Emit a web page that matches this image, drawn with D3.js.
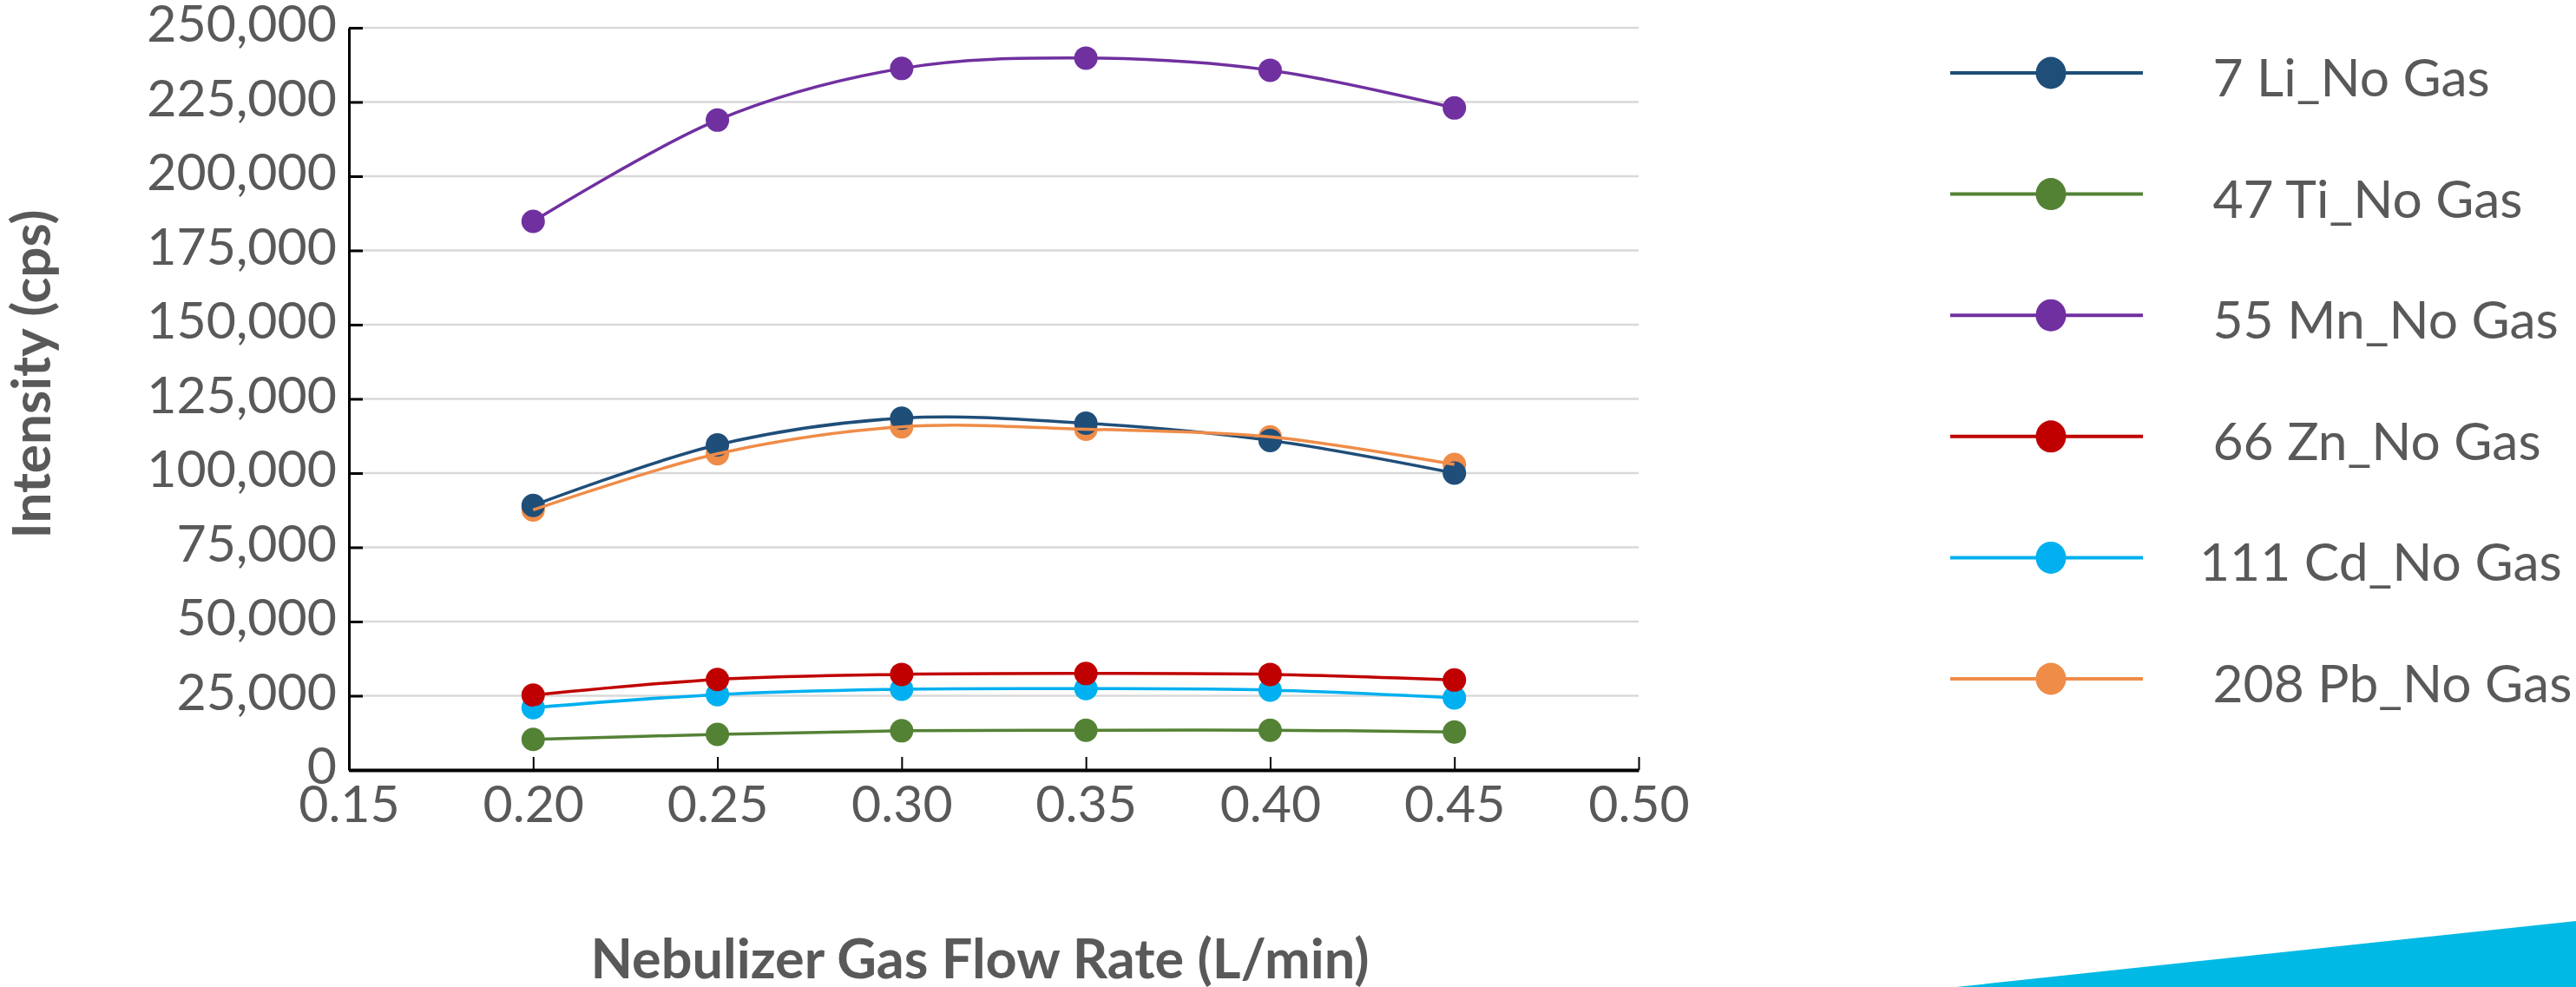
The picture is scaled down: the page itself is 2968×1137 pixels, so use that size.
<!DOCTYPE html>
<html>
<head>
<meta charset="utf-8">
<script src="https://cdn.jsdelivr.net/npm/d3@7"></script>
<style>
  body { margin: 0; background: #fff; }
  svg text { font-family: Lato, "Open Sans", sans-serif; fill: #595959; }
</style>
</head>
<body>
<div id="chart"></div>
<script>
// Flow rates (L/min) and intensities (cps)
const flowRates = [0.20, 0.25, 0.30, 0.35, 0.40, 0.45];
const li7 = [89100, 109500, 118500, 116800, 111000, 100000];
const ti47 = [10300, 12000, 13200, 13400, 13400, 12800];
const mn55 = [184800, 218900, 236300, 239800, 235700, 223000];
const zn66 = [25200, 30500, 32200, 32500, 32200, 30300];
const cd111 = [21000, 25400, 27200, 27400, 26900, 24300];
const pb208 = [87600, 106500, 115600, 114800, 112200, 102900];

const seriesNames = [' 7 Li_No Gas', ' 47 Ti_No Gas', ' 55 Mn_No Gas', ' 66 Zn_No Gas', '111 Cd_No Gas', ' 208 Pb_No Gas'];
const seriesValues = [li7, ti47, mn55, zn66, cd111, pb208];
const seriesColors = ['#1f4e79', '#548235', '#7030a0', '#c00000', '#00b0f0', '#ef8c48'];

const xTicks = [0.15, 0.20, 0.25, 0.30, 0.35, 0.40, 0.45, 0.50];
const yTicks = [0, 25000, 50000, 75000, 100000, 125000, 150000, 175000, 200000, 225000, 250000];

const width = 2968;
const height = 1137;
const plot = { left: 402, right: 1888, top: 32, bottom: 887 };

const svg = d3.select('#chart')
  .append('svg')
  .attr('width', width)
  .attr('height', height);

const x = d3.scaleLinear().domain([0.15, 0.50]).range([plot.left, plot.right]);
const y = d3.scaleLinear().domain([0, 250000]).range([plot.bottom, plot.top]);

// Gridlines
svg.append('g')
  .selectAll('line')
  .data(yTicks.filter(d => d > 0))
  .enter()
  .append('line')
  .attr('x1', plot.left)
  .attr('x2', plot.right)
  .attr('y1', d => y(d))
  .attr('y2', d => y(d))
  .attr('stroke', '#d9d9d9')
  .attr('stroke-width', 2.5);

// Y axis, ticks pointing inwards
const yAxis = svg.append('g')
  .attr('transform', `translate(${plot.left},0)`)
  .call(d3.axisLeft(y).tickValues(yTicks).tickFormat(d3.format(',')).tickSizeInner(-16).tickSizeOuter(0).tickPadding(14));
yAxis.select('.domain').attr('stroke', '#000').attr('stroke-width', 3);
yAxis.selectAll('.tick line').attr('stroke', '#000').attr('stroke-width', 3);
yAxis.selectAll('.tick text')
  .attr('dy', '0.27em')
  .style('font-size', '59px')
  .style('fill', '#595959');

// X axis
const xAxis = svg.append('g')
  .attr('transform', `translate(0,${plot.bottom})`)
  .call(d3.axisBottom(x).tickValues(xTicks).tickFormat(d3.format('.2f')).tickSizeInner(-15).tickSizeOuter(0).tickPadding(18));
xAxis.select('.domain').attr('stroke', '#000').attr('stroke-width', 4);
xAxis.selectAll('.tick line').attr('stroke', '#000').attr('stroke-width', 2);
xAxis.selectAll('.tick text')
  .style('font-size', '59px')
  .style('fill', '#595959');

// Series
const series = seriesNames.map((name, i) => ({
  name: name,
  color: seriesColors[i],
  points: flowRates.map((f, j) => ({ x: f, y: seriesValues[i][j] }))
}));

const line = d3.line()
  .x(d => x(d.x))
  .y(d => y(d.y))
  .curve(d3.curveCardinal.tension(0));

// Markers first (last series underneath), then lines over them
series.slice().reverse().forEach(s => {
  svg.append('g')
    .selectAll('circle')
    .data(s.points)
    .enter()
    .append('circle')
    .attr('cx', d => x(d.x))
    .attr('cy', d => y(d.y))
    .attr('r', 13.5)
    .attr('fill', s.color);
});

series.forEach(s => {
  svg.append('path')
    .datum(s.points)
    .attr('d', line)
    .attr('fill', 'none')
    .attr('stroke', s.color)
    .attr('stroke-width', 3.5);
});

// Legend
const legend = svg.append('g');
const legendRow = d3.scaleLinear().domain([0, 5]).range([84, 782]);

series.forEach((s, i) => {
  const g = legend.append('g').attr('transform', `translate(0,${legendRow(i)})`);
  g.append('line')
    .attr('x1', 2247)
    .attr('x2', 2469)
    .attr('stroke', s.color)
    .attr('stroke-width', 4);
  g.append('ellipse')
    .attr('cx', 2363)
    .attr('rx', 17.5)
    .attr('ry', 18.5)
    .attr('fill', s.color);
  g.append('text')
    .attr('x', 2534)
    .attr('y', 27)
    .style('font-size', '60.5px')
    .style('white-space', 'pre')
    .text(s.name);
});

// Axis titles
svg.append('text')
  .attr('x', 1129)
  .attr('y', 1127)
  .attr('text-anchor', 'middle')
  .style('font-size', '63px')
  .style('font-weight', 'bold')
  .text('Nebulizer Gas Flow Rate (L/min)');

svg.append('text')
  .attr('transform', 'translate(58,431) rotate(-90)')
  .attr('text-anchor', 'middle')
  .style('font-size', '62px')
  .style('font-weight', 'bold')
  .text('Intensity (cps)');

// Corner decoration
svg.append('polygon')
  .attr('points', '2254,1137 2968,1061 2968,1137')
  .attr('fill', '#00b9e4');
</script>
</body>
</html>
